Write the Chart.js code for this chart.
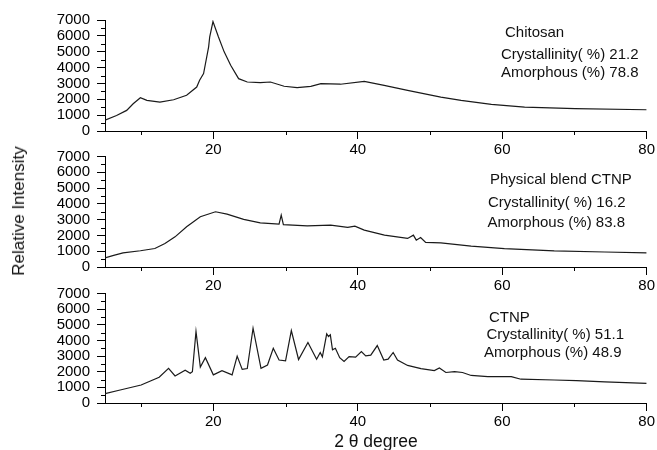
<!DOCTYPE html>
<html>
<head>
<meta charset="utf-8">
<script src="https://cdn.jsdelivr.net/npm/chart.js@4/dist/chart.umd.min.js"></script>
<style>
  html, body { margin: 0; padding: 0; background: #fff; }
  #wrap { position: relative; width: 657px; height: 450px; overflow: hidden; background: #fff; }
  canvas { position: absolute; left: 0; top: 0; }
  .t { position: absolute; font-family: "Liberation Sans", Arial, sans-serif; font-size: 15px; line-height: 18px; color: #111; white-space: nowrap; }
  .ax { position: absolute; font-family: "Liberation Sans", Arial, sans-serif; font-size: 17px; line-height: 20px; color: #111; white-space: nowrap; }
</style>
</head>
<body>
<div id="wrap">
  <canvas id="c1" width="657" height="450"></canvas>
  <canvas id="c2" width="657" height="450"></canvas>
  <canvas id="c3" width="657" height="450"></canvas>

  <div class="t" style="left:505px;top:23px;">Chitosan</div>
  <div class="t" style="left:501px;top:44.5px;">Crystallinity( %) 21.2</div>
  <div class="t" style="left:501px;top:63px;">Amorphous (%) 78.8</div>

  <div class="t" style="left:490px;top:169.5px;">Physical blend CTNP</div>
  <div class="t" style="left:488px;top:193px;">Crystallinity( %) 16.2</div>
  <div class="t" style="left:487.5px;top:213px;">Amorphous (%) 83.8</div>

  <div class="t" style="left:489px;top:308px;">CTNP</div>
  <div class="t" style="left:486.5px;top:324.5px;">Crystallinity( %) 51.1</div>
  <div class="t" style="left:484px;top:343px;">Amorphous (%) 48.9</div>

  <div class="ax" style="left:19px;top:211px;transform:translate(-50%,-50%) rotate(-90deg);">Relative Intensity</div>
  <div class="ax" style="left:376px;top:431px;transform:translateX(-50%);font-size:17.5px;">2 θ degree</div>
</div>
<script>
// ---- Data ----
const xTickLabels = [20, 40, 60, 80];
const yTickLabels = [0, 1000, 2000, 3000, 4000, 5000, 6000, 7000];

const chitosanX = [5.0, 6.6, 8.0, 8.9, 9.9, 10.8, 12.6, 14.5, 16.3, 17.7, 18.1, 18.65, 19.35, 19.5, 19.95, 20.7, 21.5, 22.4, 23.5, 24.7, 26.5, 27.9, 29.8, 31.6, 33.5, 34.9, 37.6, 40.9, 43.65, 46.9, 51.5, 54.3, 58.5, 63.1, 70.1, 80.0];
const chitosanY = [680, 980, 1300, 1720, 2100, 1930, 1820, 1970, 2250, 2770, 3200, 3620, 5310, 5940, 6900, 5940, 4990, 4150, 3300, 3090, 3050, 3090, 2820, 2740, 2820, 2990, 2950, 3130, 2880, 2560, 2140, 1930, 1680, 1510, 1410, 1340];

const blendX = [5.0, 6.2, 7.5, 9.9, 11.9, 13.3, 14.7, 16.3, 18.2, 20.3, 21.9, 24.2, 26.5, 29.1, 29.4, 29.7, 33.0, 36.25, 38.6, 39.6, 40.9, 43.7, 46.9, 47.7, 48.1, 48.7, 49.4, 51.5, 55.7, 60.3, 67.2, 74.2, 80.0];
const blendY = [580, 740, 890, 1030, 1170, 1490, 1910, 2550, 3180, 3500, 3350, 3020, 2800, 2720, 3290, 2680, 2600, 2650, 2510, 2590, 2340, 2020, 1810, 2020, 1700, 1870, 1560, 1530, 1320, 1170, 1020, 950, 890];

const ctnpX = [5.0, 7.1, 10.0, 12.5, 13.8, 14.7, 16.1, 16.8, 17.1, 17.6, 18.2, 18.9, 20.0, 21.2, 22.6, 23.3, 24.0, 24.7, 25.5, 26.6, 27.5, 28.3, 29.1, 30.0, 30.8, 31.8, 33.1, 34.3, 34.8, 35.1, 35.7, 35.95, 36.2, 36.5, 36.9, 37.5, 38.1, 38.8, 39.7, 40.5, 41.1, 41.8, 42.7, 43.6, 44.2, 44.9, 45.5, 46.9, 48.75, 50.6, 51.3, 52.2, 53.4, 54.5, 55.7, 58.0, 61.25, 62.6, 67.2, 70.3, 74.2, 80.0];
const ctnpY = [600, 830, 1150, 1650, 2220, 1730, 2100, 1900, 2000, 4570, 2300, 2900, 1800, 2070, 1800, 3000, 2150, 2200, 4780, 2220, 2430, 3500, 2750, 2700, 4630, 2780, 3870, 2800, 3230, 2950, 4420, 4250, 4360, 3400, 3500, 2900, 2650, 2970, 2930, 3290, 3010, 3060, 3670, 2750, 2800, 3230, 2750, 2400, 2200, 2070, 2240, 1950, 2000, 1950, 1760, 1690, 1690, 1520, 1470, 1430, 1350, 1260];

const xMinorTicks = [10, 30, 50, 70];
const yMinorTicks = [500, 1500, 2500, 3500, 4500, 5500, 6500];

// ---- Layout ----
const W = 657, H = 450;
const AREA_LEFT = 105, AREA_RIGHT = 648;
const panels = [
  { id: 'c1', top: 20,    bottom: 131, xs: chitosanX, ys: chitosanY },
  { id: 'c2', top: 156.5, bottom: 267, xs: blendX,    ys: blendY },
  { id: 'c3', top: 293.5, bottom: 403, xs: ctnpX,     ys: ctnpY }
];

const tickFont = { family: '"Liberation Sans", Arial, sans-serif', size: 15 };

const minorTicks = {
  id: 'minorTicks',
  afterDraw(chart) {
    const ctx = chart.ctx, sx = chart.scales.x, sy = chart.scales.y;
    ctx.save();
    ctx.strokeStyle = '#000';
    ctx.lineWidth = 1;
    ctx.beginPath();
    xMinorTicks.forEach(v => {
      const px = Math.round(sx.getPixelForValue(v)) + 0.5;
      ctx.moveTo(px, sx.top);
      ctx.lineTo(px, sx.top + 4);
    });
    yMinorTicks.forEach(v => {
      const py = Math.round(sy.getPixelForValue(v)) + 0.5;
      ctx.moveTo(sy.right - 4, py);
      ctx.lineTo(sy.right, py);
    });
    ctx.stroke();
    ctx.restore();
  }
};

panels.forEach(p => {
  const data = p.xs.map((x, i) => ({ x: x, y: p.ys[i] }));
  new Chart(document.getElementById(p.id), {
    type: 'line',
    data: {
      datasets: [{
        data: data,
        borderColor: '#1a1a1a',
        borderWidth: 1.2,
        pointRadius: 0,
        tension: 0,
        fill: false
      }]
    },
    options: {
      responsive: false,
      animation: false,
      events: [],
      layout: { padding: { top: p.top, right: W - AREA_RIGHT, left: 0, bottom: 0 } },
      plugins: { legend: { display: false }, tooltip: { enabled: false } },
      scales: {
        x: {
          type: 'linear',
          min: 5, max: 80,
          afterBuildTicks: s => { s.ticks = xTickLabels.map(v => ({ value: v })); },
          afterFit: s => { s.height = H - p.bottom; },
          ticks: { font: tickFont, color: '#000', padding: 2, maxRotation: 0, autoSkip: false, callback: v => String(v) },
          grid: { drawOnChartArea: false, drawTicks: true, tickLength: 8, color: '#000', lineWidth: 1 },
          border: { display: true, color: '#000', width: 1 }
        },
        y: {
          min: 0, max: 7000,
          afterBuildTicks: s => { s.ticks = yTickLabels.map(v => ({ value: v })); },
          afterFit: s => { s.width = AREA_LEFT; },
          ticks: { font: tickFont, color: '#000', padding: 7, autoSkip: false, callback: v => String(v) },
          grid: { drawOnChartArea: false, drawTicks: true, tickLength: 8, color: '#000', lineWidth: 1 },
          border: { display: true, color: '#000', width: 1 }
        }
      }
    },
    plugins: [minorTicks]
  });
});
</script>
</body>
</html>
